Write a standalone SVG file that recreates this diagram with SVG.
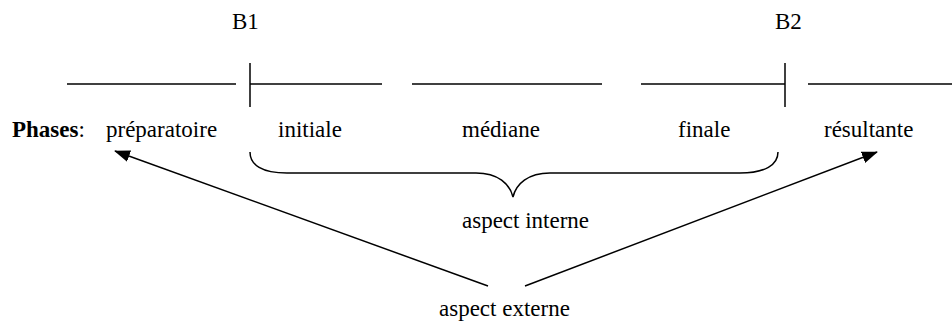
<svg xmlns="http://www.w3.org/2000/svg" width="952" height="325" viewBox="0 0 952 325" font-family="'Liberation Serif', serif">
<defs>
<style>
text{font-family:'Liberation Serif', serif;font-size:23px;fill:#000}
.b{font-weight:bold}
.ln{stroke:#000;stroke-width:1.5;fill:none}
</style>
<marker id="ah" markerWidth="16" markerHeight="12" refX="15" refY="6" orient="auto" markerUnits="userSpaceOnUse">
<path d="M0,0 L16,6 L0,12 z" fill="#000"/>
</marker>
</defs>
<rect width="952" height="325" fill="#fff"/>
<g id="timeline">
<line class="ln" x1="67" y1="84" x2="236" y2="84"/>
<line class="ln" x1="250" y1="84" x2="382" y2="84"/>
<line class="ln" x1="412" y1="84" x2="602" y2="84"/>
<line class="ln" x1="641" y1="84" x2="785" y2="84"/>
<line class="ln" x1="808" y1="84" x2="952" y2="84"/>
</g>
<g id="B1">
<line class="ln" x1="250" y1="63" x2="250" y2="107"/>
<text x="232" y="29">B1</text>
</g>
<g id="B2">
<line class="ln" x1="785" y1="63" x2="785" y2="107"/>
<text x="775" y="29">B2</text>
</g>
<g id="phases">
<text x="12" y="137"><tspan class="b">Phases</tspan>:</text>
<text id="preparatoire" x="106" y="137">préparatoire</text>
<text id="initiale" x="278" y="137">initiale</text>
<text id="mediane" x="462" y="137">médiane</text>
<text id="finale" x="678" y="137">finale</text>
<text id="resultante" x="824" y="137">résultante</text>
</g>
<g id="aspect-interne">
<path class="ln" d="M250,152 C250,165 262,173 287,173 L476,173 C498,173 510,184 513,197 C516,184 528,173 550,173 L740,173 C765,173 778,165 778,152"/>
<text x="462" y="228">aspect interne</text>
</g>
<g id="aspect-externe">
<text x="439" y="316">aspect externe</text>
</g>
<g id="connectors">
<line class="ln" x1="488" y1="286" x2="115" y2="151" marker-end="url(#ah)"/>
<line class="ln" x1="525" y1="286" x2="877" y2="152" marker-end="url(#ah)"/>
</g>
</svg>
